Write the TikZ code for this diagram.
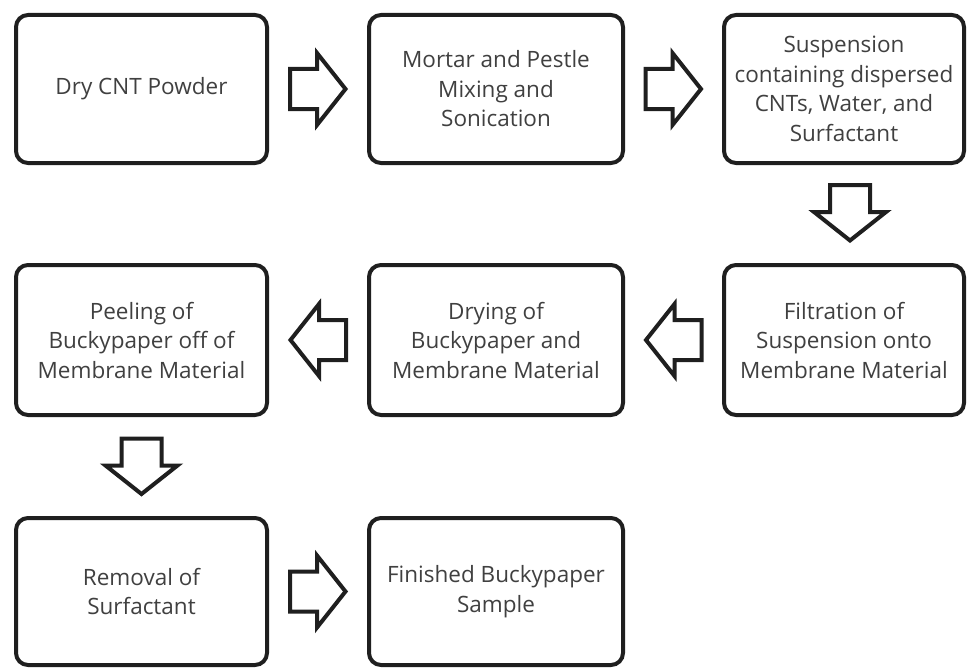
\documentclass[tikz,border=0pt]{standalone}
\usepackage{fontspec}
\setmainfont{Open Sans}
\usetikzlibrary{calc}
\begin{document}
\begin{tikzpicture}[x=1pt,y=-1pt,
  stepbox/.style={draw=black!88, line width=4pt, rounded corners=12pt, fill=white,
    align=center, inner sep=0pt, text=black!75,
    font=\fontsize{22.5}{29.5}\selectfont},
  blk/.style={draw=black!88, line width=4pt, line join=miter, fill=white},
  rarr/.pic={\path[blk] (-28,-20) -- (-1,-20) -- (-1,-36) -- (27.5,0) -- (-1,36) -- (-1,20) -- (-28,20) -- cycle;}]
\path[use as bounding box] (0,0) rectangle (969,669);
% row 1
\node[stepbox, minimum width=251pt, minimum height=148pt] (b1) at (141.5,89) {Dry CNT Powder};
\node[stepbox, minimum width=254pt, minimum height=148pt] (b2) at (496,89) {Mortar and Pestle\\Mixing and\\Sonication};
\node[stepbox, minimum width=240pt, minimum height=148pt] (b3) at (844,89) {Suspension\\containing dispersed\\CNTs, Water, and\\Surfactant};
% row 2
\node[stepbox, minimum width=251pt, minimum height=150pt] (b4) at (141.5,340) {Peeling of\\Buckypaper off of\\Membrane Material};
\node[stepbox, minimum width=254pt, minimum height=150pt] (b5) at (496,340) {Drying of\\Buckypaper and\\Membrane Material};
\node[stepbox, minimum width=240pt, minimum height=150pt] (b6) at (844,340) {Filtration of\\Suspension onto\\Membrane Material};
% row 3
\node[stepbox, minimum width=251pt, minimum height=147pt] (b7) at (141.5,591.5) {Removal of\\Surfactant};
\node[stepbox, minimum width=254pt, minimum height=147pt] (b8) at (496,591.5) {Finished Buckypaper\\Sample};
% arrows
\pic at ($(b1.east)!0.5!(b2.west)$) {rarr};
\pic at ($(b2.east)!0.5!(b3.west)$) {rarr};
\pic[xshift=6pt, yshift=1pt, rotate=-90] at ($(b3.south)!0.5!(b6.north)$) {rarr};
\pic[rotate=180] at ($(b6.west)!0.5!(b5.east)$) {rarr};
\pic[rotate=180] at ($(b5.west)!0.5!(b4.east)$) {rarr};
\pic[rotate=-90] at ($(b4.south)!0.5!(b7.north)$) {rarr};
\pic at ($(b7.east)!0.5!(b8.west)$) {rarr};
\end{tikzpicture}
\end{document}
